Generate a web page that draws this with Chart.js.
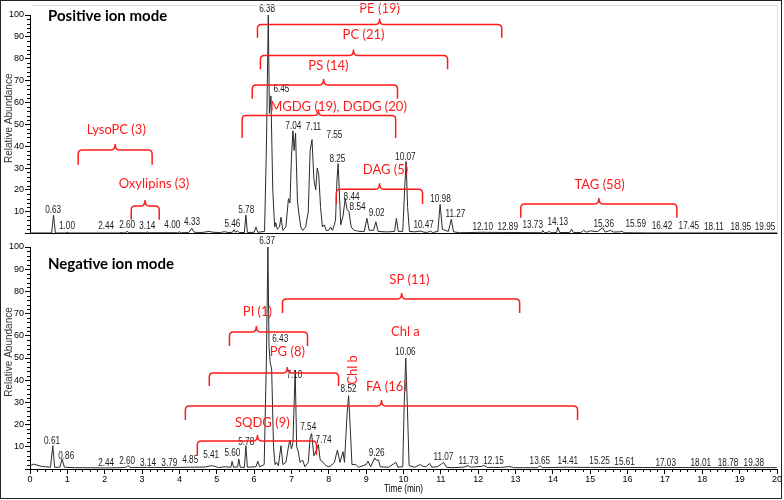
<!DOCTYPE html>
<html>
<head>
<meta charset="utf-8">
<script src="https://cdn.jsdelivr.net/npm/chart.js@4.4.0/dist/chart.umd.min.js"></script>
<style>
  body { margin: 0; background: #fff; }
  #wrap { position: relative; width: 784px; height: 500px; overflow: hidden; }
  canvas { position: absolute; left: 0; }
  #c1 { top: 0; }
  #c2 { top: 236px; }
  #frame { position: absolute; left: 0; top: 0; width: 782px; height: 499px; border: 1px solid #222; box-sizing: border-box; pointer-events: none; }
</style>
</head>
<body>
<div id="wrap">
  <canvas id="c1" width="784" height="240"></canvas>
  <canvas id="c2" width="784" height="264"></canvas>
  <div id="frame"></div>
</div>
<script>
// Positive ion mode trace (time in min, relative abundance)
var posTime = [0, 0.58, 0.63, 0.68, 0.95, 1.00, 1.05, 2.40, 2.44, 2.50, 2.55, 2.60, 2.65, 3.10, 3.14, 3.20,
  3.95, 4.00, 4.05, 4.25, 4.33, 4.40, 4.60, 4.80, 4.90, 5.10, 5.20, 5.30, 5.42, 5.46, 5.50, 5.55, 5.60,
  5.74, 5.78, 5.82, 6.00, 6.05, 6.10, 6.28, 6.33, 6.38, 6.41, 6.45, 6.50, 6.55, 6.58, 6.62, 6.68, 6.72,
  6.77, 6.85, 6.92, 6.96, 7.00, 7.04, 7.07, 7.11, 7.16, 7.20, 7.25, 7.30, 7.38, 7.45, 7.50, 7.55, 7.60,
  7.65, 7.69, 7.73, 7.78, 7.83, 7.88, 7.93, 8.00, 8.05, 8.10, 8.18, 8.22, 8.25, 8.28, 8.32, 8.38, 8.44,
  8.49, 8.54, 8.60, 8.68, 8.75, 8.80, 8.95, 9.02, 9.08, 9.20, 9.26, 9.32, 9.50, 9.60, 9.76, 9.81, 9.86,
  9.98, 10.03, 10.07, 10.11, 10.16, 10.30, 10.47, 10.55, 10.65, 10.72, 10.78, 10.92, 10.98, 11.04, 11.20,
  11.28, 11.34, 11.50, 12.10, 12.90, 13.70, 13.73, 13.77, 13.85, 13.90, 13.95, 14.10, 14.13, 14.18, 14.45,
  14.50, 14.55, 14.75, 14.82, 14.90, 15.00, 15.10, 15.20, 15.33, 15.40, 15.55, 15.62, 15.80, 15.85, 15.90,
  16.50, 20];
var posAbund = [0.3, 0.3, 8.5, 0.3, 0.3, 0.6, 0.3, 0.3, 0.5, 0.3, 0.4, 1.0, 0.4, 0.4, 0.7, 0.4,
  0.4, 0.8, 0.4, 0.5, 2.5, 0.6, 0.5, 1.0, 0.6, 0.5, 0.9, 0.5, 0.6, 1.8, 0.6, 1.2, 0.5,
  0.5, 8.5, 0.5, 0.6, 3.0, 0.6, 1.0, 40, 100, 55, 63, 20, 3, 5, 2, 3, 7.5,
  1.5, 3, 16, 14, 35, 47, 38, 46, 15, 9, 3, 1.5, 3, 10, 38, 43, 25,
  20, 30, 27, 12, 3, 4, 1.5, 1.5, 3, 1.5, 6, 25, 32, 20, 4, 8, 16,
  11, 10, 3, 1.5, 1.3, 1.0, 1.0, 7, 1.5, 1.5, 5.4, 1.0, 0.8, 0.8, 1.0, 7, 1.0,
  1.0, 20, 33, 12, 1.0, 0.8, 1.2, 0.6, 0.6, 1.2, 0.5, 1.0, 13.4, 2, 1.0,
  6.5, 0.8, 0.4, 0.6, 0.5, 0.4, 1.5, 0.4, 0.5, 1.0, 0.4, 0.5, 3, 0.5, 0.5,
  2, 0.5, 0.5, 1.5, 0.6, 1.3, 1.0, 1.0, 2.7, 0.7, 1.5, 0.7, 0.8, 1.2, 0.4,
  0.3, 0.3];

// Negative ion mode trace
var negTime = [0, 0.10, 0.30, 0.55, 0.61, 0.66, 0.80, 0.86, 0.92, 1.20, 2.00, 2.44, 2.58, 2.62, 2.68, 3.14,
  3.79, 4.30, 4.70, 4.85, 4.95, 5.05, 5.20, 5.38, 5.41, 5.45, 5.56, 5.59, 5.63, 5.74, 5.78, 5.82, 6.05,
  6.10, 6.15, 6.27, 6.33, 6.37, 6.40, 6.43, 6.47, 6.52, 6.56, 6.60, 6.65, 6.72, 6.77, 6.85, 6.93, 6.96,
  7.00, 7.04, 7.10, 7.14, 7.18, 7.23, 7.30, 7.36, 7.45, 7.50, 7.54, 7.60, 7.68, 7.72, 7.77, 7.85, 7.92,
  8.00, 8.08, 8.15, 8.23, 8.30, 8.38, 8.42, 8.49, 8.53, 8.57, 8.62, 8.72, 8.80, 9.00, 9.05, 9.12, 9.23,
  9.27, 9.33, 9.38, 9.60, 9.80, 9.85, 9.98, 10.02, 10.06, 10.10, 10.15, 10.30, 10.45, 10.52, 10.60, 10.70,
  10.76, 10.90, 11.00, 11.07, 11.15, 11.30, 11.60, 11.73, 11.80, 12.10, 12.15, 12.25, 12.60, 12.85, 12.95,
  13.60, 13.65, 13.72, 14.41, 15.00, 20];
var negAbund = [1.5, 2.2, 1.2, 0.8, 10.5, 0.8, 0.8, 4.5, 0.8, 0.6, 0.5, 0.6, 0.8, 1.6, 0.7, 0.7,
  0.7, 0.8, 0.9, 1.5, 1.2, 0.6, 1.0, 0.8, 3.4, 0.8, 0.9, 4.5, 0.8, 0.7, 10.5, 0.8, 1.0,
  3.5, 1.0, 2, 50, 100, 55, 48, 45, 10, 2, 3, 1.5, 10.5, 2, 3, 11, 13,
  9, 12, 44.6, 10, 8, 3, 4, 1.0, 3, 14, 16, 6, 9, 11, 4, 3, 1.5,
  1.0, 1.8, 3, 8.5, 3, 7.8, 3, 25, 33, 20, 2, 2, 0.8, 2, 3.5, 1.0, 5,
  4, 4, 1.0, 0.8, 3, 0.8, 1.0, 30, 50, 30, 1.5, 0.8, 2, 1.2, 1.0, 2.5,
  0.8, 1.0, 2, 3, 0.8, 0.6, 0.8, 1.5, 0.8, 1.2, 1.6, 0.7, 0.7, 1.1, 0.6,
  0.6, 1.5, 0.6, 0.8, 0.7, 0.6];

// Retention time labels: text and anchor (time, abundance)
var posPeakText = ['6.38', '6.45', '7.04', '7.11', '7.55', '8.25', '8.44', '8.54', '9.02', '10.07', '10.47',
  '10.98', '11.27', '12.10', '12.89', '13.73', '14.13', '15.36', '15.59', '16.42', '17.45', '18.11', '18.95',
  '19.95', '0.63', '1.00', '2.44', '2.60', '3.14', '4.00', '4.33', '5.46', '5.78'];
var posPeakX = [6.35, 6.73, 7.05, 7.59, 8.15, 8.23, 8.61, 8.77, 9.28, 10.05, 10.54,
  10.99, 11.39, 12.12, 12.79, 13.46, 14.13, 15.36, 16.22, 16.92, 17.64, 18.31, 19.03,
  19.68, 0.62, 0.99, 2.04, 2.60, 3.14, 3.81, 4.34, 5.42, 5.79];
var posPeakY = [102.7, 66.2, 49.1, 48.6, 45, 34.2, 16.7, 12.2, 9.5, 35.1, 3.6,
  15.8, 9, 2.7, 2.7, 3.6, 5.4, 4.5, 4.1, 3.2, 3.2, 2.7, 2.7,
  2.7, 10.8, 3.2, 3.2, 3.6, 3.2, 3.6, 5.4, 4.5, 10.8];

var negPeakText = ['6.37', '6.43', '7.10', '8.52', '7.54', '7.74', '5.78', '5.60', '5.41', '4.85', '3.79',
  '3.14', '2.60', '2.44', '0.86', '0.61', '9.26', '10.06', '11.07', '11.73', '12.15', '13.65', '14.41',
  '15.25', '15.61', '17.03', '18.01', '18.78', '19.38'];
var negPeakX = [6.35, 6.70, 7.08, 8.53, 7.45, 7.86, 5.79, 5.42, 4.85, 4.29, 3.73,
  3.16, 2.60, 2.04, 0.97, 0.59, 9.28, 10.05, 11.07, 11.74, 12.41, 13.65, 14.40,
  15.25, 15.92, 17.02, 17.96, 18.69, 19.38];
var negPeakY = [102.7, 58.6, 42.3, 36, 18.9, 13.1, 12.2, 7.2, 6.3, 4.1, 2.7,
  2.7, 3.6, 2.7, 5.9, 12.6, 7.2, 52.7, 5.4, 3.6, 3.6, 3.6, 3.6,
  3.6, 3.2, 2.7, 2.7, 2.7, 2.7];

// Lipid class brackets: name, time range, centre mark, level, leg end, label anchor
var posClass = ['PE (19)', 'PC (21)', 'PS (14)', 'MGDG (19), DGDG (20)', 'LysoPC (3)', 'Oxylipins (3)', 'DAG (5)', 'TAG (58)'];
var posFrom = [6.09, 6.17, 5.95, 5.68, 1.29, 2.71, 8.20, 13.14];
var posTo = [12.63, 11.18, 9.84, 9.79, 3.27, 3.46, 10.51, 17.32];
var posMid = [9.36, 8.66, 7.86, 7.72, 2.28, 3.08, 9.36, 15.23];
var posLevel = [95.7, 81.5, 68, 54, 38.3, 12.6, 20.3, 13.5];
var posEnd = [89.6, 75.2, 61.7, 43.7, 31.5, 6.3, 13.5, 7.2];
var posTextX = [9.36, 8.93, 7.99, 8.26, 2.31, 3.32, 9.52, 15.25];
var posTextY = [102.8, 91, 76.6, 58.1, 47.3, 23, 29.3, 22.5];

var negClass = ['SP (11)', 'PI (1)', 'PG (8)', 'FA (16)', 'SQDG (9)'];
var negFrom = [6.76, 5.34, 4.80, 4.16, 4.48];
var negTo = [13.11, 7.43, 8.26, 14.66, 7.67];
var negMid = [9.95, 6.06, 6.89, 9.41, 6.09];
var negLevel = [76.6, 61.7, 43.2, 28.4, 12.6];
var negEnd = [70.3, 55.4, 37.4, 22.1, 6.3];
var negTextX = [10.16, 6.09, 6.89, 9.54, 6.22];
var negTextY = [85.1, 70.7, 52.7, 36.9, 20.7];

var xTicks = [0, 20];
var yTicks = [0, 100];

var RED = '#ff1a1a';
var SMALL = '10px "Liberation Sans", Arial, sans-serif';
var REDFONT = '13px Lato, "Open Sans", sans-serif';

function toPoints(times, values) {
  return times.map(function (t, i) { return { x: t, y: values[i] }; });
}

// Arial-Narrow look: squeeze regular text horizontally
function narrowText(ctx, txt, x, y) {
  ctx.save();
  ctx.translate(x, y);
  ctx.scale(0.82, 1);
  ctx.fillText(txt, 0, 0);
  ctx.restore();
}

function drawBracket(ctx, xs, ys, from, to, mid, level, end) {
  var l = xs.getPixelForValue(from), r = xs.getPixelForValue(to), m = xs.getPixelForValue(mid);
  var yy = ys.getPixelForValue(level), ye = ys.getPixelForValue(end);
  var c = 4;
  ctx.beginPath();
  ctx.moveTo(l, ye);
  ctx.lineTo(l, yy + c);
  ctx.quadraticCurveTo(l, yy, l + c, yy);
  ctx.lineTo(m - c, yy);
  ctx.quadraticCurveTo(m, yy, m, yy - 6);
  ctx.quadraticCurveTo(m, yy, m + c, yy);
  ctx.lineTo(r - c, yy);
  ctx.quadraticCurveTo(r, yy, r, yy + c);
  ctx.lineTo(r, ye);
  ctx.stroke();
}

function annotations(cfg) {
  return {
    id: 'annot_' + cfg.id,
    afterDraw: function (chart) {
      var ctx = chart.ctx, xs = chart.scales.x, ys = chart.scales.y;
      var area = chart.chartArea;
      ctx.save();

      // minor ticks on y axis
      ctx.strokeStyle = '#000';
      ctx.lineWidth = 1;
      ctx.beginPath();
      for (var v = 2; v < 100; v += 2) {
        if (v % 10 === 0) continue;
        var py = Math.round(ys.getPixelForValue(v)) + 0.5;
        ctx.moveTo(area.left - 3, py);
        ctx.lineTo(area.left, py);
      }
      if (cfg.xTicks) {
        for (var t = 0.2; t < 20; t += 0.2) {
          if (Math.abs(t - Math.round(t)) < 0.01) continue;
          var px = Math.round(xs.getPixelForValue(t)) + 0.5;
          ctx.moveTo(px, area.bottom);
          ctx.lineTo(px, area.bottom + 3);
        }
      }
      ctx.stroke();

      // peak retention-time labels
      ctx.fillStyle = '#1a1a1a';
      ctx.font = SMALL;
      ctx.textAlign = 'center';
      ctx.textBaseline = 'middle';
      cfg.peakText.forEach(function (txt, i) {
        narrowText(ctx, txt, xs.getPixelForValue(cfg.peakX[i]), ys.getPixelForValue(cfg.peakY[i]));
      });

      // class brackets
      ctx.strokeStyle = RED;
      ctx.fillStyle = RED;
      ctx.lineWidth = 1.5;
      ctx.font = REDFONT;
      cfg.cls.forEach(function (name, i) {
        drawBracket(ctx, xs, ys, cfg.from[i], cfg.to[i], cfg.mid[i], cfg.level[i], cfg.end[i]);
        ctx.fillText(name, xs.getPixelForValue(cfg.textX[i]), ys.getPixelForValue(cfg.textY[i]));
      });
      if (cfg.extra) cfg.extra(ctx, xs, ys);

      // panel title
      ctx.fillStyle = '#000';
      ctx.font = 'bold 15px Lato, "Open Sans", sans-serif';
      ctx.textAlign = 'left';
      ctx.fillText(cfg.title, 48, cfg.titleY);

      // y axis title
      ctx.save();
      ctx.translate(9, (area.top + area.bottom) / 2 - 6);
      ctx.rotate(-Math.PI / 2);
      ctx.fillStyle = '#333';
      ctx.font = '10px "Liberation Sans", Arial, sans-serif';
      ctx.textAlign = 'center';
      ctx.fillText('Relative Abundance', 0, 0);
      ctx.restore();

      if (cfg.xTicks) {
        ctx.fillStyle = '#000';
        ctx.font = SMALL;
        ctx.textAlign = 'center';
        narrowText(ctx, 'Time (min)', (area.left + area.right) / 2, area.bottom + 20);
      } else {
        // faint frame of the upper panel
        ctx.strokeStyle = '#e2e2e2';
        ctx.lineWidth = 1;
        ctx.beginPath();
        ctx.moveTo(area.left + 2, 5.5);
        ctx.lineTo(777.5, 5.5);
        ctx.lineTo(777.5, area.bottom);
        ctx.stroke();
      }
      ctx.restore();
    }
  };
}

function makeChart(id, times, values, cfg, padTop, xHeight) {
  return new Chart(document.getElementById(id).getContext('2d'), {
    type: 'line',
    data: {
      datasets: [{
        data: toPoints(times, values),
        borderColor: '#2b2b2b',
        borderWidth: 1,
        pointRadius: 0,
        tension: 0,
        fill: false
      }]
    },
    options: {
      responsive: false,
      animation: false,
      events: [],
      layout: { padding: { left: 0, right: 7, top: padTop, bottom: 0 } },
      plugins: { legend: { display: false }, tooltip: { enabled: false } },
      scales: {
        x: {
          type: 'linear',
          min: xTicks[0],
          max: xTicks[1],
          afterFit: function (s) { s.height = xHeight; },
          border: { display: true, color: '#000', width: 1 },
          grid: { display: cfg.xTicks, drawOnChartArea: false, drawTicks: cfg.xTicks, tickLength: 5, color: '#000' },
          ticks: {
            display: cfg.xTicks,
            stepSize: 1,
            padding: 0,
            color: '#000',
            maxRotation: 0,
            autoSkip: false,
            font: { family: '"Liberation Sans", Arial', size: 9 }
          }
        },
        y: {
          min: yTicks[0],
          max: yTicks[1],
          afterFit: function (s) { s.width = 30; },
          border: { display: true, color: '#000', width: 1 },
          grid: { drawOnChartArea: false, tickLength: 5, color: '#000' },
          ticks: {
            stepSize: 10,
            padding: 1,
            color: '#000',
            font: { family: '"Liberation Sans", Arial', size: 9 },
            callback: function (v) { return v === 0 ? '' : v; }
          }
        }
      }
    },
    plugins: [annotations(cfg)]
  });
}

makeChart('c1', posTime, posAbund, {
  id: 'pos', title: 'Positive ion mode', titleY: 16, xTicks: false,
  peakText: posPeakText, peakX: posPeakX, peakY: posPeakY,
  cls: posClass, from: posFrom, to: posTo, mid: posMid, level: posLevel, end: posEnd,
  textX: posTextX, textY: posTextY
}, 15, 3);

makeChart('c2', negTime, negAbund, {
  id: 'neg', title: 'Negative ion mode', titleY: 28, xTicks: true,
  peakText: negPeakText, peakX: negPeakX, peakY: negPeakY,
  cls: negClass, from: negFrom, to: negTo, mid: negMid, level: negLevel, end: negEnd,
  textX: negTextX, textY: negTextY,
  extra: function (ctx, xs, ys) {
    ctx.fillText('Chl a', xs.getPixelForValue(10.05), ys.getPixelForValue(61.7));
    ctx.save();
    ctx.translate(xs.getPixelForValue(8.63), ys.getPixelForValue(44.6));
    ctx.rotate(-Math.PI / 2);
    ctx.fillText('Chl b', 0, 0);
    ctx.restore();
  }
}, 11, 31);
</script>
</body>
</html>
